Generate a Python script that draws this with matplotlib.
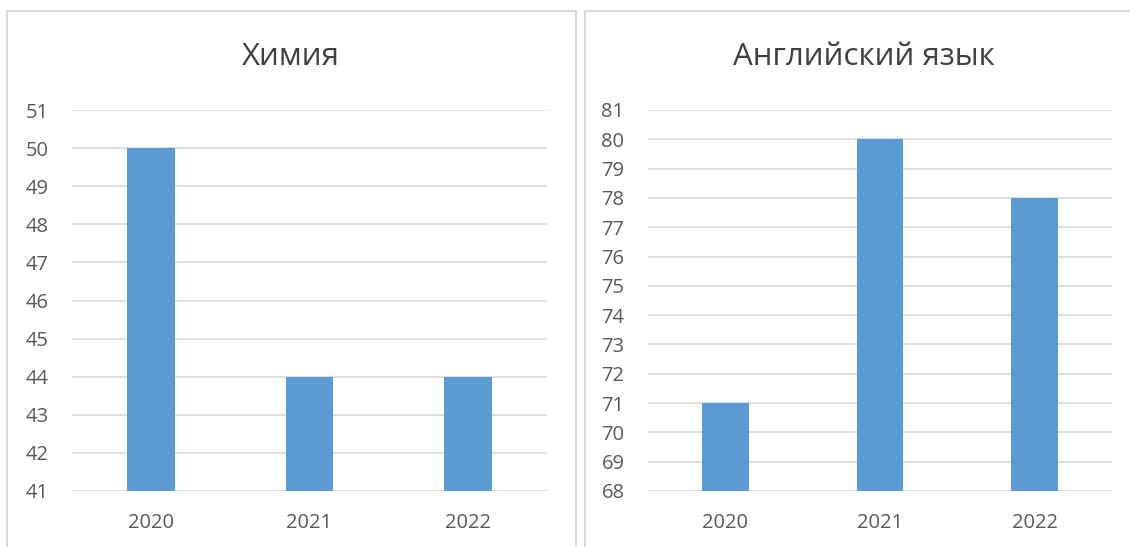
import matplotlib.pyplot as plt
from matplotlib.patches import Rectangle

plt.rcParams["font.family"] = ["Open Sans", "DejaVu Sans"]

years = ["2020", "2021", "2022"]
chem_scores = [50, 44, 44]
eng_scores = [71, 80, 78]

BAR_COLOR = "#5B9BD5"
GRID_COLOR = "#D9D9D9"
TEXT_COLOR = "#595959"

W, H = 1130, 547
fig = plt.figure(figsize=(W / 100, H / 100), dpi=100)


def px_axes(x0, x1, y_top, y_bot):
    return fig.add_axes([x0 / W, 1 - y_bot / H, (x1 - x0) / W, (y_bot - y_top) / H])


def draw_panel(ax, values, title, ymin, ymax, title_x):
    x = list(range(len(years)))
    ax.bar(x, values, width=0.3, color=BAR_COLOR, zorder=2)
    ax.set_xlim(-0.5, len(years) - 0.5)
    ax.set_ylim(ymin, ymax)
    ax.set_yticks(range(ymin, ymax + 1))
    ax.set_xticks(x)
    ax.set_xticklabels(years)
    ax.grid(axis="y", color=GRID_COLOR, linewidth=1.2, zorder=0)
    for s in ax.spines.values():
        s.set_visible(False)
    ax.tick_params(length=0, colors=TEXT_COLOR, labelsize=14.5)
    ax.tick_params(axis="y", pad=17)
    ax.tick_params(axis="x", pad=16)
    # title is centred on the chart frame, not on the plot area
    fig.text(title_x / W, 1 - 57 / H, title, ha="center", va="center",
             fontsize=22.5, color="#404040")


# panel frames
fig.patches.append(Rectangle((7 / W, -0.05), 569 / W, 1.05 - 11 / H, transform=fig.transFigure,
                             fill=False, edgecolor=GRID_COLOR, linewidth=1.5))
fig.patches.append(Rectangle((585 / W, -0.05), 600 / W, 1.05 - 11 / H, transform=fig.transFigure,
                             fill=False, edgecolor=GRID_COLOR, linewidth=1.5))

ax1 = px_axes(72, 547, 110, 491)
draw_panel(ax1, chem_scores, "Химия", 41, 51, 291)

ax2 = px_axes(648, 1112, 110, 491)
draw_panel(ax2, eng_scores, "Английский язык", 68, 81, 864)

fig.savefig("out.png", dpi=100)
